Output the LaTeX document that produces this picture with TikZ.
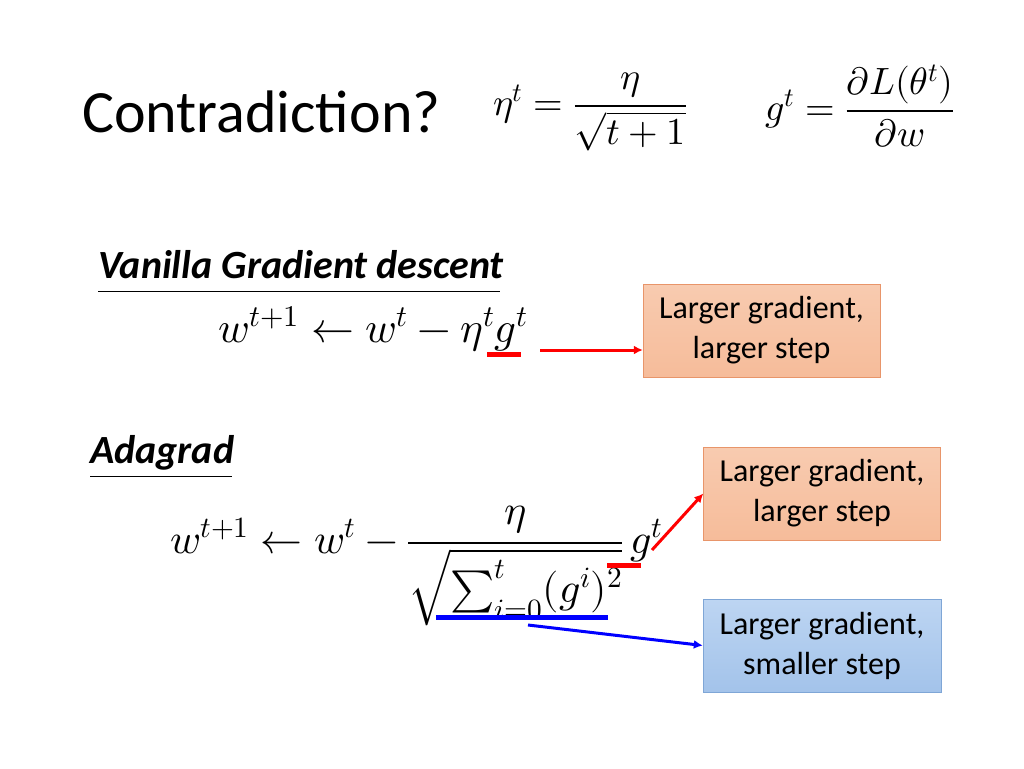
\documentclass[tikz,border=0pt]{standalone}
\usepackage{amsmath}
\usepackage{fontspec}
\usepackage{unicode-math}
\setmainfont{Carlito}
\setmathfont{Latin Modern Math}
\usetikzlibrary{arrows.meta}
\definecolor{orfill}{HTML}{F6BC9A}
\definecolor{ortop}{HTML}{F8CBB0}
\definecolor{orline}{HTML}{E8956A}
\definecolor{blfill}{HTML}{A3C3EA}
\definecolor{bltop}{HTML}{BDD5F2}
\definecolor{blline}{HTML}{7FA6D6}
\tikzset{
  obox/.style={draw=orline,top color=ortop,bottom color=orfill,minimum width=237pt,minimum height=93pt,align=center,font=\fontsize{32}{40}\selectfont},
  bbox/.style={draw=blline,top color=bltop,bottom color=blfill,minimum width=238pt,minimum height=93pt,align=center,font=\fontsize{32}{40}\selectfont},
  mth/.style={font=\fontsize{38}{44}\selectfont},
  hdr/.style={font=\fontsize{40}{44}\selectfont\bfseries\itshape,anchor=base west,inner sep=0},
  rarr/.style={red,line width=3pt,-{Latex[length=9pt,width=9pt]}},
  barr/.style={blue,line width=3pt,-{Latex[length=9pt,width=9pt]}}
}
\begin{document}
\begin{tikzpicture}[x=1pt,y=-1pt]
\useasboundingbox (0,0) rectangle (1024,768);
\node[anchor=base west,inner sep=0,font=\fontsize{60}{66}\selectfont] (title) at (82,132) {Contradiction?};
\node[mth] (eta) at (590,112) {$\eta^t=\dfrac{\eta}{\sqrt{t+1}}$};
\node[mth] (gt) at (860,106) {$g^t=\dfrac{\partial L(\theta^t)}{\partial w}$};
\node[hdr] (vh) at (98,278) {Vanilla Gradient descent};
\draw[line width=0.8pt] (98,291) -- (500,291);
\node[font=\fontsize{43}{48}\selectfont,anchor=base] (vf) at (373,342) {$w^{t+1}\leftarrow w^t-\eta^t g^t$};
\draw[red,line width=5pt] (487,354) -- (521,354);
\node[obox] (b1) at (761.5,330.5) {Larger gradient,\\larger step};
\coordinate (v1) at (540,350);
\draw[rarr] (v1) -- (b1.west |- v1);
\node[hdr] (ah) at (90,463) {Adagrad};
\draw[line width=0.8pt] (90,476) -- (232,476);
\node[font=\fontsize{42}{48}\selectfont,anchor=west,inner sep=0] (af) at (170,566) {$w^{t+1}\leftarrow w^t-\dfrac{\eta}{\sqrt{\textstyle\sum_{i=0}^{t}(g^i)^2}}\,g^t$};
\draw[red,line width=5pt] (607,565) -- (641,565);
\draw[blue,line width=5pt] (436,617) -- (608,617);
\node[obox] (b2) at (822,493.5) {Larger gradient,\\larger step};
\node[bbox] (b3) at (822,645.5) {Larger gradient,\\smaller step};
\coordinate (a1) at (652,550);
\coordinate (a2) at (528,625);
\draw[rarr] (a1) -- (b2.west);
\draw[barr] (a2) -- (b3.west);
\end{tikzpicture}
\end{document}
